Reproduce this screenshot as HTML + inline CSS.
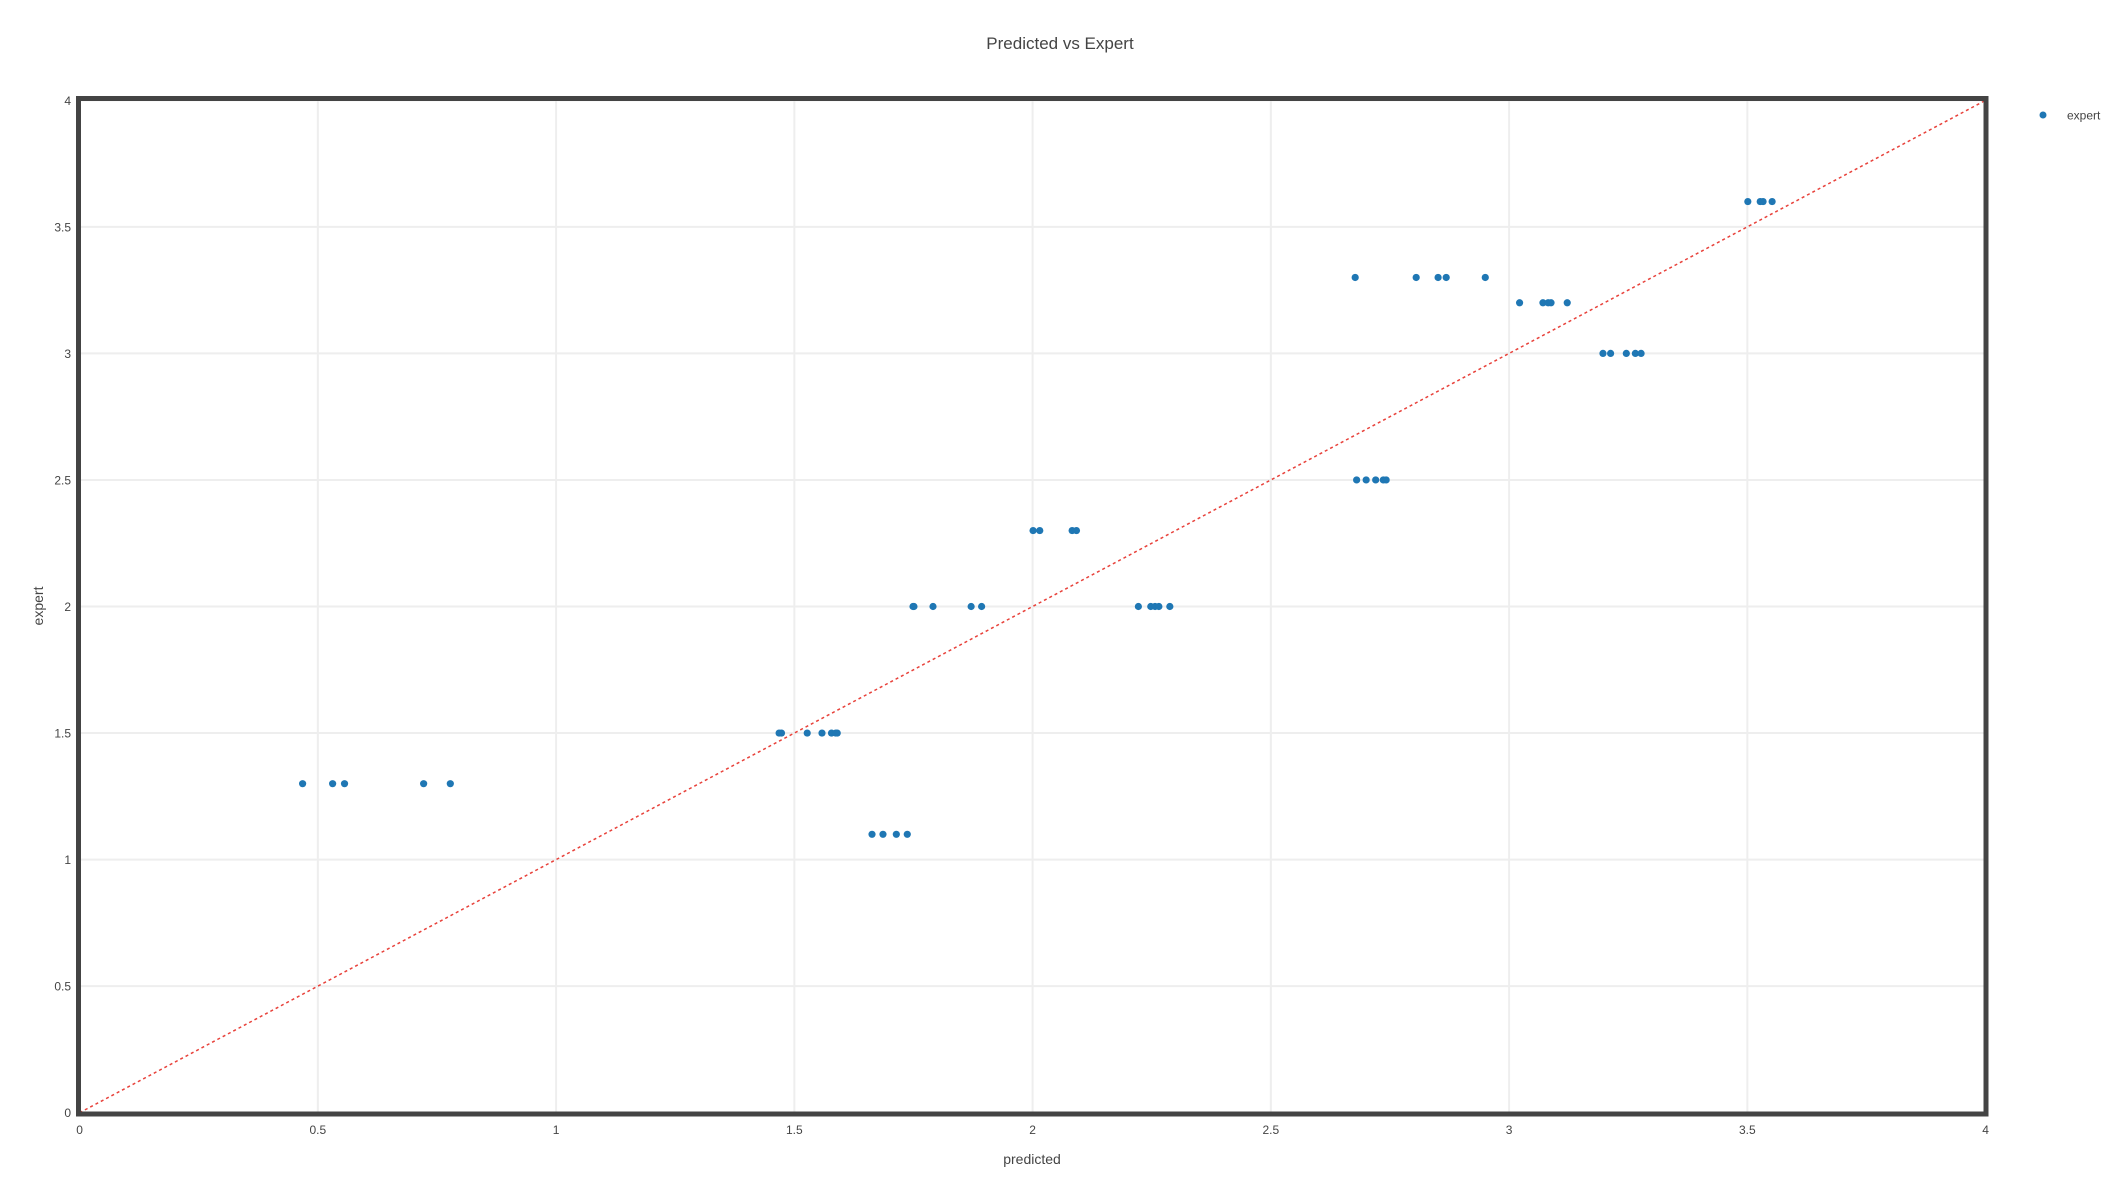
<!DOCTYPE html>
<html><head><meta charset="utf-8"><style>
html,body{margin:0;padding:0;background:#fff}
svg{display:block;font-family:"Liberation Sans","DejaVu Sans",sans-serif}
</style></head><body>
<svg id="chart" width="2120" height="1191" viewBox="0 0 2120 1191">
<text x="1060" y="49" text-anchor="middle" font-size="17" fill="#444">Predicted vs Expert</text>
<g id="grid"></g>
<g id="ticks"></g>
<line id="diag" stroke="#e8413a" stroke-width="1.5" stroke-dasharray="3,3"/>
<g id="pts"></g>
<rect x="78.5" y="98.5" width="1907.5" height="1015.5" fill="none" stroke="#444" stroke-width="5"/>
<text x="1032" y="1164" text-anchor="middle" font-size="14" fill="#444">predicted</text>
<text transform="translate(43,606) rotate(-90)" text-anchor="middle" font-size="14" fill="#444">expert</text>
<g>
<circle cx="2043" cy="115" r="3.5" fill="#1f77b4"/>
<text x="2067" y="119.5" font-size="12" fill="#444">expert</text>
</g>
</svg>
<script>
const xTicks=[0,0.5,1,1.5,2,2.5,3,3.5,4];
const xTickLabels=["0","0.5","1","1.5","2","2.5","3","3.5","4"];
const yTicks=[0,0.5,1,1.5,2,2.5,3,3.5,4];
const yTickLabels=["0","0.5","1","1.5","2","2.5","3","3.5","4"];
const predicted=[0.468,0.531,0.556,0.722,0.778,
1.468,1.473,1.527,1.558,1.578,1.587,1.590,
1.663,1.686,1.714,1.737,
1.749,1.751,1.791,1.871,1.893,
2.001,2.015,2.083,2.092,
2.222,2.248,2.257,2.265,2.288,
2.680,2.700,2.720,2.736,2.742,
2.677,2.805,2.851,2.868,2.950,
3.022,3.071,3.082,3.088,3.122,
3.197,3.213,3.246,3.265,3.277,
3.501,3.527,3.533,3.552];
const expert=[1.3,1.3,1.3,1.3,1.3,
1.5,1.5,1.5,1.5,1.5,1.5,1.5,
1.1,1.1,1.1,1.1,
2,2,2,2,2,
2.3,2.3,2.3,2.3,
2,2,2,2,2,
2.5,2.5,2.5,2.5,2.5,
3.3,3.3,3.3,3.3,3.3,
3.2,3.2,3.2,3.2,3.2,
3,3,3,3,3,
3.6,3.6,3.6,3.6];
const NS="http://www.w3.org/2000/svg";
const X0=79.6,X1=1985.6,Y0=1112.7,Y1=100.3;
function sx(v){return X0+(v-0)/(4-0)*(X1-X0);}
function sy(v){return Y0+(v-0)/(4-0)*(Y1-Y0);}
const grid=document.getElementById('grid'),ticks=document.getElementById('ticks'),pts=document.getElementById('pts');
function mk(t,a){const e=document.createElementNS(NS,t);for(const k in a)e.setAttribute(k,a[k]);return e;}
xTicks.forEach((v,i)=>{
  const l=mk('line',{x1:sx(v),x2:sx(v),y1:Y1,y2:Y0,stroke:'#eee','stroke-width':2});
  
  
  grid.appendChild(l);
  const t=mk('text',{x:sx(v),y:1134,'text-anchor':'middle','font-size':12,fill:'#444'});
  
  
  t.textContent=xTickLabels[i];ticks.appendChild(t);
});
yTicks.forEach((v,i)=>{
  const l=mk('line',{x1:X0,x2:X1,y1:sy(v),y2:sy(v),stroke:'#eee','stroke-width':2});
  
  
  grid.appendChild(l);
  const t=mk('text',{x:71,y:sy(v)+4.5,'text-anchor':'end','font-size':12,fill:'#444'});
  
  
  t.textContent=yTickLabels[i];ticks.appendChild(t);
});
const d=document.getElementById('diag');
d.setAttribute('x1',sx(0));d.setAttribute('y1',sy(0));d.setAttribute('x2',sx(4));d.setAttribute('y2',sy(4));
predicted.forEach((p,i)=>{
  const c=mk('circle',{cx:sx(p),cy:sy(expert[i]),r:3.6,fill:'#1f77b4'});
  
  
  pts.appendChild(c);
});
</script>
</body></html>
